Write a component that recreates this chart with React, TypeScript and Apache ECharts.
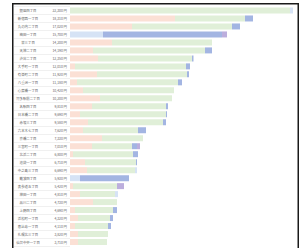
import React, { useEffect, useRef } from "react";
import * as echarts from "echarts";

const names = [
  "銀座四丁目", "新宿西一丁目", "丸の内二丁目", "梅田一丁目", "栄三丁目",
  "天神二丁目", "渋谷二丁目", "大手町一丁目", "有楽町二丁目", "八重洲一丁目",
  "心斎橋一丁目", "博多駅前二丁目", "名駅四丁目", "日本橋二丁目", "赤坂三丁目",
  "六本木七丁目", "京橋二丁目", "三宮町一丁目", "北浜二丁目", "池袋一丁目",
  "中之島三丁目", "難波四丁目", "表参道五丁目", "神田一丁目", "品川二丁目",
  "上野四丁目", "浜松町一丁目", "恵比寿一丁目", "札幌北三丁目", "仙台中央一丁目",
];
const valueLabels = [
  "22,300 円", "18,310 円", "17,020 円", "15,700 円", "14,200 円",
  "14,190 円", "12,350 円", "12,010 円", "11,920 円", "11,180 円",
  "10,420 円", "10,200 円", "9,810 円", "9,690 円", "9,580 円",
  "7,620 円", "7,330 円", "7,010 円", "6,800 円", "6,710 円",
  "6,690 円", "5,930 円", "5,420 円", "4,810 円", "4,730 円",
  "4,690 円", "4,320 円", "4,110 円", "3,820 円", "3,710 円",
];
const pinkSeg = [0, 105, 62, 0, 42, 23, 28, 5, 27, 7, 13, 30, 22, 10, 18, 13, 32, 22, 3, 15, 17, 0, 3, 10, 23, 5, 8, 5, 8, 8];
const greenSeg = [220, 70, 100, 0, 100, 112, 94, 111, 90, 101, 91, 72, 74, 86, 75, 55, 41, 40, 60, 51, 48, 0, 44, 35, 24, 38, 32, 33, 30, 29];
const lightBlueSeg = [3, 0, 0, 33, 0, 0, 0, 0, 0, 0, 0, 0, 0, 0, 0, 0, 0, 0, 0, 0, 2, 10, 0, 3, 0, 0, 0, 0, 0, 0];
const blueSeg = [0, 8, 8, 119, 0, 7, 1.5, 4, 2, 4, 0, 0, 2, 1, 3, 8, 0, 5, 5, 1, 0, 49, 0, 0, 0, 4, 3, 3, 0, 0];
const mauveSeg = [0, 0, 0, 5, 0, 0, 0, 0, 0, 0, 0, 0, 0, 0, 0, 0, 0, 3, 0, 0, 0, 0, 7, 0, 0, 0, 0, 0, 0, 0];

export default function App() {
  const ref = useRef<HTMLDivElement>(null);
  useEffect(() => {
    document.body.style.margin = "0";
    const chart = echarts.init(ref.current!, null, { renderer: "svg" });
    const mk = (name: string, data: number[], color: string) => ({
      name,
      type: "bar",
      stack: "total",
      data,
      barWidth: 6,
      xAxisIndex: 0,
      yAxisIndex: 0,
      itemStyle: { color },
      silent: true,
    });
    chart.setOption({
      animation: false,
      backgroundColor: "#ffffff",
      grid: [
        { left: 70, right: 12, top: 6.5, bottom: 2, containLabel: false },
        { left: 14, width: 56, top: 6.5, bottom: 2, containLabel: false },
      ],
      xAxis: [
        { type: "value", gridIndex: 0, min: 0, max: 223, show: false },
        { type: "value", gridIndex: 1, min: 0, max: 1, show: false },
      ],
      yAxis: [
        {
          type: "category",
          gridIndex: 0,
          inverse: true,
          data: names,
          axisLine: { show: false },
          axisTick: { show: false },
          splitLine: { show: false },
          axisLabel: {
            interval: 0,
            margin: 3,
            formatter: (v: string, i: number) => `{n|${v}}{v|${valueLabels[i]}}`,
            rich: {
              n: { width: 44, align: "center", fontSize: 3.4, color: "#666", fontFamily: "Noto Sans CJK JP" },
              v: { width: 17, align: "right", fontSize: 3.4, color: "#666", fontFamily: "Noto Sans CJK JP" },
            },
          },
        },
        {
          type: "category",
          gridIndex: 1,
          inverse: true,
          data: names,
          axisLine: { show: false },
          axisTick: { show: false },
          axisLabel: { show: false },
          splitLine: { show: true, interval: 0, lineStyle: { color: "#ececec", width: 0.8 } },
        },
      ],
      series: [
        mk("A", pinkSeg, "#fbe0d5"),
        mk("B", greenSeg, "#e0efd8"),
        mk("C", lightBlueSeg, "#d6e3f5"),
        mk("D", blueSeg, "#a3b5e2"),
        mk("E", mauveSeg, "#bcaedd"),
      ],
      graphic: [
        {
          type: "rect",
          shape: { x: 12.75, y: 3.75, width: 285.5, height: 260 },
          style: { fill: "none", stroke: "#1a1a1a", lineWidth: 1.5 },
          silent: true,
          z: 100,
        },
      ],
    });
    return () => chart.dispose();
  }, []);
  return <div ref={ref} style={{ width: 305, height: 248 }} />;
}
